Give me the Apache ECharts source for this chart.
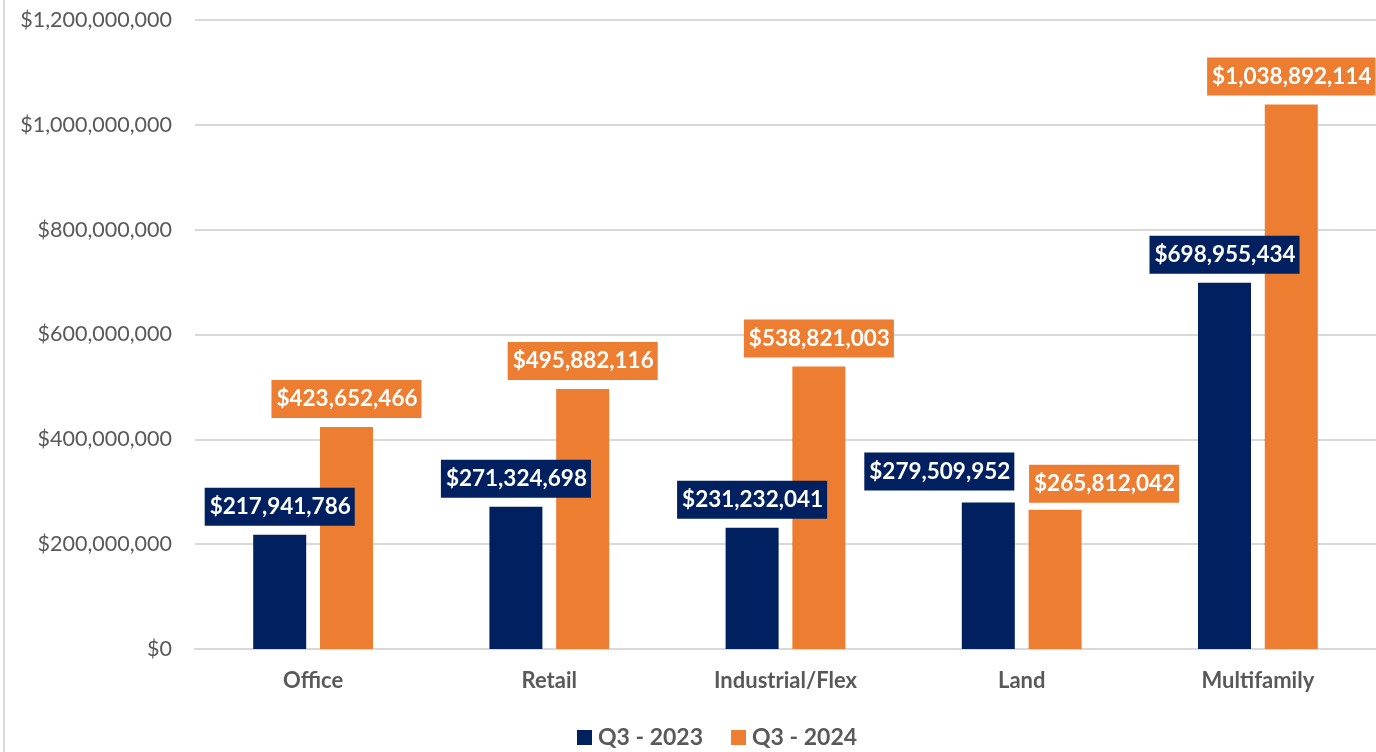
<!DOCTYPE html>
<html>
<head>
<meta charset="utf-8">
<script src="https://cdn.jsdelivr.net/npm/echarts@6/dist/echarts.min.js"></script>
<style>
html,body{margin:0;padding:0;background:#fff;}
#chart{width:1376px;height:752px;}
</style>
</head>
<body>
<div id="chart"></div>
<script>
const categories = ['Office', 'Retail', 'Industrial/Flex', 'Land', 'Multifamily'];
const seriesNames = ['Q3 - 2023', 'Q3 - 2024'];
const q3_2023 = [217941786, 271324698, 231232041, 279509952, 698955434];
const q3_2024 = [423652466, 495882116, 538821003, 265812042, 1038892114];
const yTicks = { min: 0, max: 1200000000, interval: 200000000 };
const labelShift2023 = [0, 0, 0, -49, 0];
const labelShift2024 = [0, 0, 0, 49, 0];
const colors = ['#002060', '#ED7D31'];

const fmt = v => '$' + Math.round(v).toString().replace(/\B(?=(\d{3})+(?!\d))/g, ',');
const FONT = 'Lato, "Open Sans", sans-serif';

function makeData(values, shifts) {
  return values.map((v, i) => ({
    value: v,
    label: { offset: [shifts[i], shifts[i] > 0 ? 2 : (shifts[i] < 0 ? -3 : 0)] }
  }));
}

function makeSeries(name, values, shifts, ci) {
  return {
    name: name,
    type: 'bar',
    barWidth: 53,
    barGap: '26%',
    itemStyle: { color: colors[ci] },
    label: {
      show: true,
      position: 'top',
      distance: 9,
      formatter: p => fmt(p.value),
      color: '#ffffff',
      fontFamily: FONT,
      fontWeight: 'bold',
      fontSize: 22.5,
      backgroundColor: colors[ci],
      padding: [6, 4, 6, 5],
      lineHeight: 26
    },
    data: makeData(values, shifts)
  };
}

const chart = echarts.init(document.getElementById('chart'), null, { renderer: 'canvas' });
chart.setOption({
  animation: false,
  backgroundColor: '#ffffff',
  textStyle: { fontFamily: FONT },
  grid: { left: 195, width: 1187, top: 20, bottom: 103, containLabel: false },
  legend: {
    top: 721,
    left: 572,
    itemWidth: 15,
    itemHeight: 15,
    itemGap: 28,
    icon: 'rect',
    textStyle: { fontFamily: FONT, fontWeight: 'bold', fontSize: 23, color: '#595959', padding: [0, 0, 0, 1] },
    data: seriesNames
  },
  xAxis: {
    type: 'category',
    data: categories,
    axisLine: { show: true, lineStyle: { color: '#d9d9d9', width: 2 } },
    axisTick: { show: false },
    axisLabel: { fontFamily: FONT, fontWeight: 'bold', fontSize: 22, color: '#595959', margin: 21 }
  },
  yAxis: {
    type: 'value',
    min: yTicks.min,
    max: yTicks.max,
    interval: yTicks.interval,
    axisLine: { show: false },
    axisTick: { show: false },
    splitLine: { lineStyle: { color: '#d9d9d9', width: 2 } },
    axisLabel: { fontFamily: FONT, fontSize: 21.5, color: '#595959', margin: 23, formatter: v => fmt(v) }
  },
  graphic: [{
    type: 'rect',
    shape: { x: 3, y: 0, width: 2, height: 752 },
    style: { fill: '#d9d9d9' },
    silent: true
  }],
  series: [
    makeSeries(seriesNames[0], q3_2023, labelShift2023, 0),
    makeSeries(seriesNames[1], q3_2024, labelShift2024, 1)
  ]
});
</script>
</body>
</html>
